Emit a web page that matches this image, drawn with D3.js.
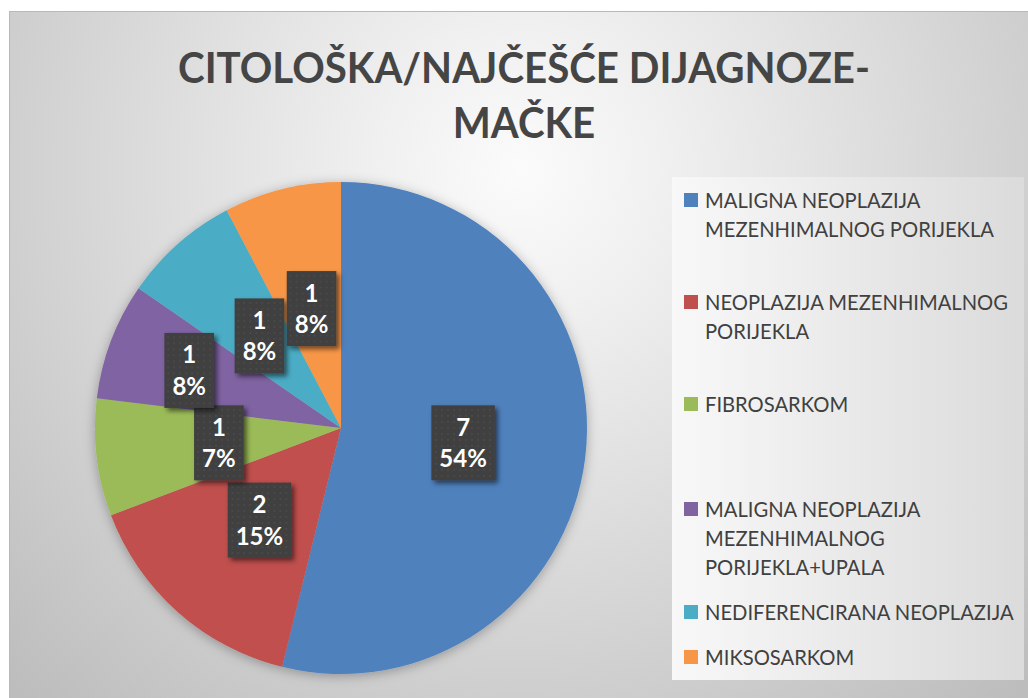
<!DOCTYPE html>
<html>
<head>
    <meta charset="utf-8">
    <title>Citološka dijagnoze - mačke</title>
    <script src="https://d3js.org/d3.v7.min.js"></script>
    <style>
        body { margin: 0; background: white; }
        svg { display: block; }
    </style>
</head>
<body>
    <svg id="chart"></svg>
    <script>
        // data
        const categories = [
            ["MALIGNA NEOPLAZIJA", "MEZENHIMALNOG PORIJEKLA"],
            ["NEOPLAZIJA MEZENHIMALNOG", "PORIJEKLA"],
            ["FIBROSARKOM"],
            ["MALIGNA NEOPLAZIJA", "MEZENHIMALNOG", "PORIJEKLA+UPALA"],
            ["NEDIFERENCIRANA NEOPLAZIJA"],
            ["MIKSOSARKOM"]
        ];
        const counts = [7, 2, 1, 1, 1, 1];
        const percentLabels = ["54%", "15%", "7%", "8%", "8%", "8%"];
        const colors = ["#4F81BD", "#C0504D", "#9BBB59", "#8064A2", "#4BACC6", "#F79646"];
        const titleLines = ["CITOLOŠKA/NAJČEŠĆE DIJAGNOZE-", "MAČKE"];

        // layout
        const width = 1028, height = 698;
        const cx = 341, cy = 428, radius = 246;
        const labelRadius = [0.5, 0.5, 0.5, 0.66, 0.5, 0.5];
        const legendBaselines = [208, 310, 412, 517, 620, 665];
        const legendLineHeight = 29;

        const svg = d3.select("#chart")
            .attr("width", width)
            .attr("height", height);

        const defs = svg.append("defs");

        const bg = defs.append("radialGradient")
            .attr("id", "bg")
            .attr("gradientUnits", "userSpaceOnUse")
            .attr("cx", 520).attr("cy", 170).attr("r", 720);
        bg.append("stop").attr("offset", "0").attr("stop-color", "#fbfbfb");
        bg.append("stop").attr("offset", "0.2").attr("stop-color", "#f0f0f0");
        bg.append("stop").attr("offset", "1").attr("stop-color", "#bdbdbd");

        const legendBg = defs.append("linearGradient")
            .attr("id", "legendBg")
            .attr("x1", "0").attr("x2", "1").attr("y1", "0").attr("y2", "0");
        legendBg.append("stop").attr("offset", "0").attr("stop-color", "#f8f8f8");
        legendBg.append("stop").attr("offset", "1").attr("stop-color", "#dbdbdb");

        const dots = defs.append("pattern")
            .attr("id", "dots")
            .attr("patternUnits", "userSpaceOnUse")
            .attr("width", 6).attr("height", 6);
        dots.append("rect").attr("width", 6).attr("height", 6).attr("fill", "#3f3f3f");
        dots.append("rect").attr("x", 2).attr("y", 2).attr("width", 2).attr("height", 2).attr("fill", "#494949");

        defs.append("filter").attr("id", "pieShadow")
            .attr("x", "-20%").attr("y", "-20%").attr("width", "140%").attr("height", "140%")
            .append("feDropShadow")
            .attr("dx", 0).attr("dy", 2).attr("stdDeviation", 6)
            .attr("flood-color", "#000").attr("flood-opacity", 0.3);

        defs.append("filter").attr("id", "boxShadow")
            .attr("x", "-30%").attr("y", "-30%").attr("width", "160%").attr("height", "160%")
            .append("feDropShadow")
            .attr("dx", 3).attr("dy", 3).attr("stdDeviation", 2.5)
            .attr("flood-color", "#000").attr("flood-opacity", 0.55);

        // chart area
        svg.append("rect")
            .attr("x", 9.5).attr("y", 11.5)
            .attr("width", width - 9).attr("height", height - 11)
            .attr("fill", "url(#bg)")
            .attr("stroke", "#b8b8b8");

        // title
        const title = svg.append("g")
            .attr("font-family", "Lato, 'Open Sans', sans-serif")
            .attr("font-weight", "bold")
            .attr("font-size", "42px")
            .attr("fill", "#454545")
            .attr("text-anchor", "middle");

        const titleText = title.selectAll("text")
            .data(titleLines)
            .join("text")
            .attr("x", 524)
            .attr("y", (d, i) => 83 + i * 55)
            .text(d => d);

        const titleScale = 692 / titleText.node().getComputedTextLength();
        titleText.each(function () {
            d3.select(this)
                .attr("textLength", this.getComputedTextLength() * titleScale)
                .attr("lengthAdjust", "spacingAndGlyphs");
        });

        // pie
        const pie = d3.pie().sort(null).value(d => d);
        const arcs = pie(counts);
        const arc = d3.arc().innerRadius(0).outerRadius(radius);

        const pieG = svg.append("g")
            .attr("transform", `translate(${cx},${cy})`);

        pieG.append("g")
            .attr("filter", "url(#pieShadow)")
            .selectAll("path")
            .data(arcs)
            .join("path")
            .attr("d", arc)
            .attr("fill", (d, i) => colors[i]);

        // data labels
        const labels = pieG.selectAll("g.label")
            .data(arcs)
            .join("g")
            .attr("class", "label")
            .attr("transform", (d, i) => {
                const r = radius * labelRadius[i];
                const c = d3.arc().innerRadius(r).outerRadius(r).centroid(d);
                return `translate(${c[0]},${c[1]})`;
            });

        const boxes = labels.append("rect")
            .attr("fill", "url(#dots)")
            .attr("filter", "url(#boxShadow)");

        const labelText = labels.append("text")
            .attr("font-family", "Lato, 'Open Sans', sans-serif")
            .attr("font-weight", "bold")
            .attr("font-size", "24px")
            .attr("fill", "white")
            .attr("text-anchor", "middle");

        labelText.append("tspan")
            .attr("x", 0).attr("y", -7)
            .text((d, i) => counts[i]);
        labelText.append("tspan")
            .attr("x", 0).attr("y", 24.5)
            .text((d, i) => percentLabels[i]);

        boxes.each(function (d, i) {
            const w = labelText.nodes()[i].getBBox().width + 16;
            d3.select(this)
                .attr("x", -w / 2).attr("y", -37.5)
                .attr("width", w).attr("height", 75);
        });

        // legend
        svg.append("rect")
            .attr("x", 672).attr("y", 177)
            .attr("width", 352).attr("height", 503)
            .attr("fill", "url(#legendBg)");

        const legend = svg.append("g")
            .attr("font-family", "Lato, 'Open Sans', sans-serif")
            .attr("font-size", "21px")
            .attr("fill", "#404040");

        const items = legend.selectAll("g.item")
            .data(categories)
            .join("g")
            .attr("class", "item")
            .attr("transform", (d, i) => `translate(684,${legendBaselines[i]})`);

        items.append("rect")
            .attr("x", 0).attr("y", -15)
            .attr("width", 14).attr("height", 14)
            .attr("fill", (d, i) => colors[i]);

        const legendLines = items.selectAll("text")
            .data(d => d)
            .join("text")
            .attr("x", 21)
            .attr("y", (d, i) => i * legendLineHeight)
            .text(d => d);

        // squeeze to Calibri-like widths
        const ref = legendLines.filter(d => d === "MEZENHIMALNOG PORIJEKLA").node();
        const legendScale = 289 / ref.getComputedTextLength();
        legendLines.each(function () {
            d3.select(this)
                .attr("textLength", this.getComputedTextLength() * legendScale)
                .attr("lengthAdjust", "spacingAndGlyphs");
        });
    </script>
</body>
</html>
